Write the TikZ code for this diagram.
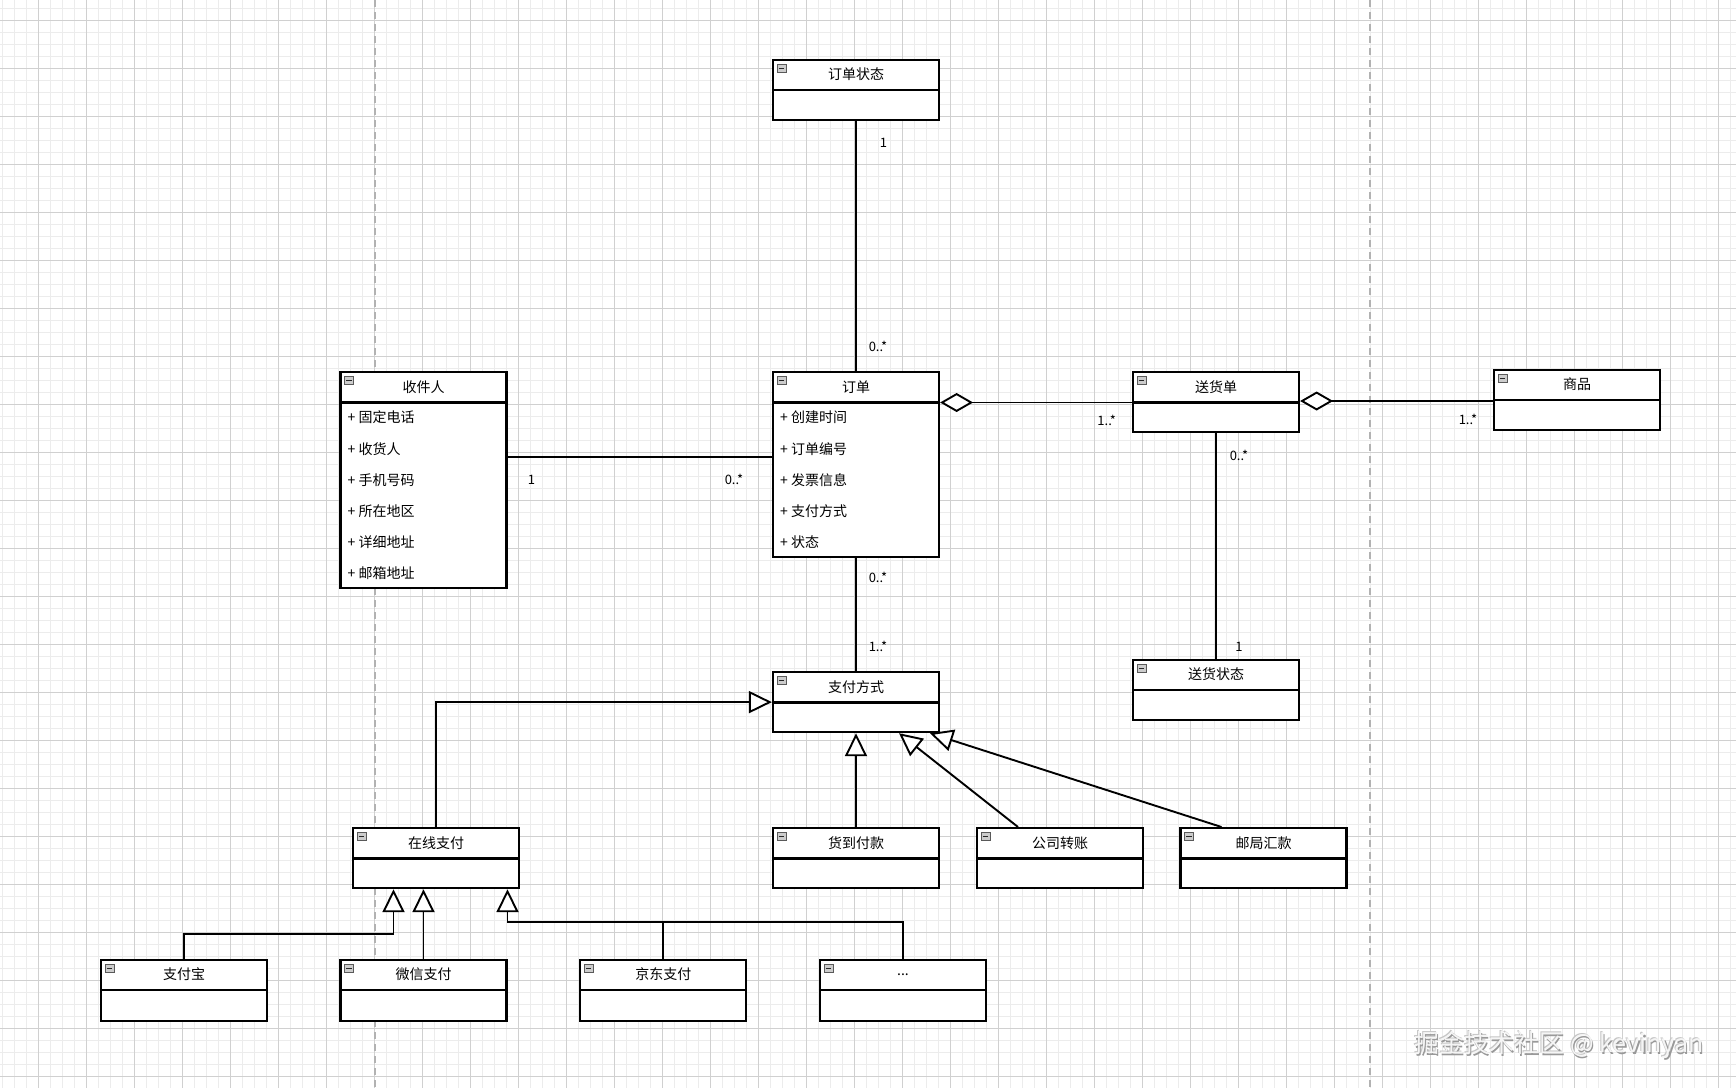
\documentclass[tikz,border=0pt]{standalone}
\usepackage{fontspec}
\setmainfont{Noto Sans CJK SC}
\usetikzlibrary{arrows.meta}
\newcommand\umlcls[5]{%
 \node[clsbox, minimum height=#4pt, anchor=north] (#1) at (#2,#3) {};
 \draw[divline] ([yshift=-31.5pt]#1.north west) -- ([yshift=-31.5pt]#1.north east);
 \node[ttl] at ([yshift=-16pt]#1.north) {#5};
 \node[icon] at ([xshift=9.5pt,yshift=-9.7pt]#1.north west) {};
 \draw[line width=0.9pt, gray!30!black] ([xshift=6.8pt,yshift=-9.7pt]#1.north west) -- ([xshift=12.2pt,yshift=-9.7pt]#1.north west);
}
\begin{document}
\begin{tikzpicture}[x=1pt,y=-1pt,
 clsbox/.style={draw=black, line width=2.2pt, fill=white, minimum width=166pt, inner sep=0pt},
 divline/.style={line width=2.2pt},
 ttl/.style={font=\fontsize{14}{16}\selectfont, inner sep=0pt},
 attr/.style={font=\fontsize{14}{16}\selectfont, anchor=west, inner sep=0pt},
 mult/.style={font=\fontsize{13}{15}\selectfont, inner sep=0pt},
 conn/.style={line width=1.9pt},
 gen/.style={conn, -{Triangle[open, fill=white, length=23pt, width=22pt]}},
 agg/.style={conn, -{Diamond[open, fill=white, length=33pt, width=19pt]}},
 icon/.style={draw=gray!70!black, fill=gray!40, line width=0.6pt, minimum width=9pt, minimum height=8pt, inner sep=0pt},
 minorgrid/.style={draw={rgb,255:red,236;green,236;blue,236}, line width=0.8pt},
 majorgrid/.style={draw={rgb,255:red,208;green,208;blue,208}, line width=1pt},
 sep/.style={draw=gray!60, line width=1.3pt, dash pattern=on 7pt off 5pt},
 wmark/.style={font=\fontsize{25}{29}\selectfont, inner sep=0pt}
]
\useasboundingbox (0,0) rectangle (1736,1088);
\fill[white] (0,0) rectangle (1736,1088);
% grid
\foreach \x in {2.3,14.3,...,1736} \draw[minorgrid] (\x,0) -- (\x,1088);
\foreach \y in {8.7,20.7,...,1088} \draw[minorgrid] (0,\y) -- (1736,\y);
\foreach \x in {38.3,86.3,...,1736} \draw[majorgrid] (\x,0) -- (\x,1088);
\foreach \y in {20.7,68.7,...,1088} \draw[majorgrid] (0,\y) -- (1736,\y);
\draw[sep] (375,0) -- (375,1088);
\draw[sep] (1370,0) -- (1370,1088);

% classes
\umlcls{zt}{856}{58.5}{60}{订单状态}
\umlcls{sj}{423.5}{371}{216}{收件人}
\umlcls{dd}{856}{371}{184.5}{订单}
\umlcls{shd}{1216}{371}{60}{送货单}
\umlcls{sp}{1577}{368.5}{60}{商品}
\umlcls{shzt}{1216}{658.5}{60}{送货状态}
\umlcls{zf}{856}{671}{60}{支付方式}
\umlcls{zx}{436}{827}{60}{在线支付}
\umlcls{hd}{856}{827}{60}{货到付款}
\umlcls{gs}{1060}{827}{60}{公司转账}
\umlcls{yj}{1263.5}{827}{60}{邮局汇款}
\umlcls{zfb}{184}{958.5}{61}{支付宝}
\umlcls{wx}{423.5}{958.5}{61}{微信支付}
\umlcls{jd}{663.3}{958.5}{61}{京东支付}
\umlcls{more}{903}{958.5}{61}{...}

% attributes
\foreach \t [count=\i from 0] in {固定电话,收货人,手机号码,所在地区,详细地址,邮箱地址}
  \node[attr] at ([xshift=8pt,yshift={-46.5pt-\i*31.2pt}]sj.north west) {+ \t};
\foreach \t [count=\i from 0] in {创建时间,订单编号,发票信息,支付方式,状态}
  \node[attr] at ([xshift=8pt,yshift={-46.5pt-\i*31.2pt}]dd.north west) {+ \t};

% helper coordinates
\coordinate (yA) at (0,457);
\coordinate (yB) at (0,402.5);
\coordinate (yC) at (0,401);
\coordinate (y934) at (0,934);
\coordinate (y922) at (0,922);
\coordinate (zxA) at ([xshift=-42.5pt]zx.south);
\coordinate (zxC) at ([xshift=71.5pt]zx.south);
\coordinate (zfG) at ([xshift=43pt]zf.south);
\coordinate (zfY) at ([xshift=74pt]zf.south);

% associations
\draw[conn] (zt.south) -- (dd.north);
\draw[conn] (sj.east |- yA) -- (dd.west |- yA);
\draw[agg] (shd.west |- yB) -- (dd.east |- yB);
\draw[agg] (sp.west |- yC) -- (shd.east |- yC);
\draw[conn] (shd.south) -- (shzt.north);
\draw[conn] (dd.south) -- (zf.north);

% generalizations
\draw[gen] (zx.north) |- (zf.west);
\draw[gen] (hd.north) -- (zf.south);
\draw[gen] ([xshift=-42pt]gs.north) -- (zfG);
\draw[gen] ([xshift=-42pt]yj.north) -- (zfY);
\draw[gen] (zfb.north) |- (zxA |- y934) -- (zxA);
\draw[gen] (wx.north) -- (wx.north |- zx.south);
\draw[gen] (more.north) |- (zxC |- y922) -- (zxC);
\draw[conn] (jd.north) -- (jd.north |- y922);

% multiplicities
\node[mult] (m1) at (883.5,143) {1};
\node[mult] (m2) at (878,346.5) {0..*};
\node[mult] (m3) at (531.4,479.4) {1};
\node[mult] (m4) at (734,479.4) {0..*};
\node[mult] (m5) at (1106.7,420) {1..*};
\node[mult] (m6) at (1468,419.3) {1..*};
\node[mult] (m7) at (1239,455) {0..*};
\node[mult] (m8) at (1239,646.7) {1};
\node[mult] (m9) at (878,577) {0..*};
\node[mult] (m10) at (878,646.5) {1..*};

% watermark
\node[wmark, text=gray!45] (wmA) at (1558.2,1044.2) {掘金技术社区 @ kevinyan};
\node[wmark, text=gray!80] (wmB) at (1560.4,1046.4) {掘金技术社区 @ kevinyan};
\node[wmark, text=gray!8] (wm) at (1559.2,1045.2) {掘金技术社区 @ kevinyan};
\end{tikzpicture}
\end{document}
